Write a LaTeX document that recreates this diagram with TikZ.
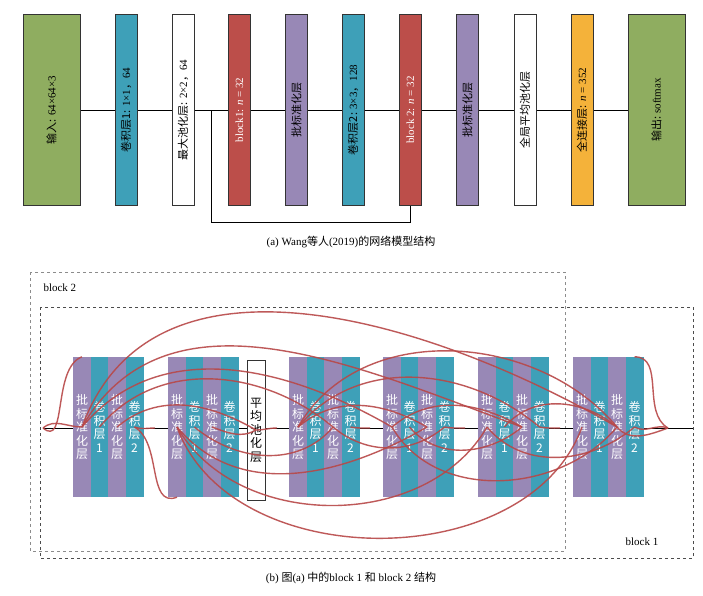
\documentclass[tikz,border=0pt]{standalone}
\usepackage{fontspec}
\setmainfont{Liberation Serif}
\newfontfamily\cjk{Noto Sans CJK SC}
\begin{document}
\begin{tikzpicture}[x=1pt,y=-1pt,
  box/.style={draw=black!80,line width=0.8pt,minimum width=#1,minimum height=191pt,inner sep=0pt},
  lab/.style={rotate=90,font=\fontsize{11}{12}\selectfont},
  strip/.style={fill=#1,draw=none,minimum width=18pt,minimum height=140pt,inner sep=0pt,text=white,align=center,font=\cjk\fontsize{12}{13.5}\selectfont},
  arc/.style={draw=arccol,line width=1.4pt,opacity=0.9},
  dbox/.style={draw=black!70,dashed,line width=0.9pt}]
\definecolor{gr}{RGB}{143,173,96}
\definecolor{tl}{RGB}{62,160,184}
\definecolor{rd}{RGB}{188,78,74}
\definecolor{pp}{RGB}{152,136,182}
\definecolor{og}{RGB}{244,178,58}
\definecolor{arccol}{RGB}{184,72,72}
\fill[white] (0,0) rectangle (703,595);
% ---------- top
\draw[line width=0.7pt] (80,110) -- (628,110);
\node[box=57pt,fill=gr] (in) at (51.5,110) {};
\node[lab] at (in) {\cjk 输入: \rmfamily 64×64×3};
\node[box=22pt,fill=tl] (c1) at (126,110) {};
\node[lab] at (c1) {\cjk 卷积层1: \rmfamily 1×1\cjk ，\rmfamily 64};
\node[box=22pt,fill=white] (mp) at (183,110) {};
\node[lab] at (mp) {\cjk 最大池化层: \rmfamily 2×2\cjk ，\rmfamily 64};
\node[box=22pt,fill=rd] (b1) at (239.5,110) {};
\node[lab,text=white] at (b1) {block1: \textit{n} = 32};
\node[box=22pt,fill=pp] (bn1) at (296.5,110) {};
\node[lab] at (bn1) {\cjk 批标准化层};
\node[box=22pt,fill=tl] (c2) at (353,110) {};
\node[lab] at (c2) {\cjk 卷积层2: \rmfamily 3×3\cjk ，\rmfamily 128};
\node[box=22pt,fill=rd] (b2) at (410.5,110) {};
\node[lab,text=white] at (b2) {block 2: \textit{n} = 32};
\node[box=22pt,fill=pp] (bn2) at (467.5,110) {};
\node[lab] at (bn2) {\cjk 批标准化层};
\node[box=22pt,fill=white] (gap) at (525,110) {};
\node[lab] at (gap) {\cjk 全局平均池化层};
\node[box=22pt,fill=og] (fc) at (582,110) {};
\node[lab] at (fc) {\cjk 全连接层: \rmfamily\textit{n} = 352};
\node[box=57pt,fill=gr] (out) at (656.5,110) {};
\node[lab] at (out) {\cjk 输出: \rmfamily softmax};
\coordinate (s0) at (211,110);
\draw[line width=0.7pt] (s0) |- (410.5,222) -- (b2.south);
\node[font=\fontsize{11}{12}\selectfont] (capa) at (351,242) {(a) Wang\cjk 等人\rmfamily (2019)\cjk 的网络模型结构};
% ---------- bottom
\draw[dbox,black!45] (30,272) rectangle (565,551);
\draw[dbox] (40,307) rectangle (693,558);
\node[font=\fontsize{11}{12}\selectfont,anchor=west] (lb2) at (40,288) {block 2};
\node[font=\fontsize{11}{12}\selectfont] (lb1) at (642,542) {block 1};
\coordinate (L) at (43,428);
\coordinate (R) at (668,428);
\draw[line width=0.7pt] (L) -- (693,428);
\foreach \g/\x in {1/82,2/177,3/298,4/392,5/487,6/582}{
  \node[strip=pp] (g\g a) at (\x,427) {批\\标\\准\\化\\层};
  \node[strip=tl] (g\g b) at (\x+17.5,427) {卷\\积\\层\\1};
  \node[strip=pp] (g\g c) at (\x+35,427) {批\\标\\准\\化\\层};
  \node[strip=tl] (g\g d) at (\x+52.5,427) {卷\\积\\层\\2};
}
\node[draw=black!80,fill=white,minimum width=18pt,minimum height=140pt,inner sep=0pt,align=center,font=\cjk\fontsize{12}{13.5}\selectfont] (ap) at (256,430) {平\\均\\池\\化\\层};
% red dense connections
\coordinate (J1) at (155,428);
\coordinate (J2) at (277,428);
\coordinate (J3) at (370,428);
\coordinate (J4) at (465,428);
\coordinate (J5) at (560,428);
\draw[arc] (L) to[out=40,in=180] (g1a.center);
\draw[arc] (L) to[out=-40,in=200] (g1a.north);
\draw[arc] (g1a.center) to[out=50,in=150] (g4a.center);
\draw[arc] (g1a.center) to[out=60,in=160] (g5c.center);
\draw[arc] (g1a.center) to[out=70,in=150] (g6c.center);
\draw[arc] (g1b.center) to[out=50,in=140] (g3c.center);
\draw[arc] (g1c.center) to[out=40,in=150] (ap.center);
\draw[arc] (g1d.center) to[out=-20,in=180] (J1);
\draw[arc] (g1d.center) to[out=-30,in=200] (g2a.south);
\draw[arc] (g2a.center) to[out=-50,in=-150] (g4c.center);
\draw[arc] (g2a.center) to[out=-60,in=-120] (g5a.center);
\draw[arc] (g2a.center) to[out=-70,in=-110] (g6a.center);
\draw[arc] (g2b.center) to[out=-40,in=-130] (g3c.center);
\draw[arc] (g2c.center) to[out=-20,in=-150] (ap.center);
\draw[arc] (ap.center) to[out=0,in=180] (J2);
\draw[arc] (g3a.center) to[out=40,in=150] (g4c.center);
\draw[arc] (g3a.center) to[out=50,in=140] (g5d.center);
\draw[arc] (g3a.center) to[out=60,in=130] (g6c.center);
\draw[arc] (g3c.center) to[out=-40,in=-140] (g4d.center);
\draw[arc] (g3d.center) to[out=-10,in=180] (J3);
\draw[arc] (g4a.center) to[out=40,in=150] (g5c.center);
\draw[arc] (g4a.center) to[out=-60,in=-130] (g6c.center);
\draw[arc] (g4b.center) to[out=-50,in=-140] (g5c.center);
\draw[arc] (g4d.center) to[out=-10,in=180] (J4);
\draw[arc] (g5a.center) to[out=-50,in=-140] (g6d.center);
\draw[arc] (g5b.center) to[out=50,in=140] (g6c.center);
\draw[arc] (g5d.center) to[out=-10,in=180] (J5);
\draw[arc] (g6d.center) to[out=-30,in=160] (R);
\draw[arc] (g6c.center) to[out=-50,in=200] (R);
\draw[arc] (g6d.north) to[out=0,in=150] (R);
\node[font=\fontsize{11}{12}\selectfont] (capb) at (351,578) {(b) \cjk 图\rmfamily (a) \cjk 中的\rmfamily block 1 \cjk 和\rmfamily\ block 2 \cjk 结构};
\end{tikzpicture}
\end{document}
